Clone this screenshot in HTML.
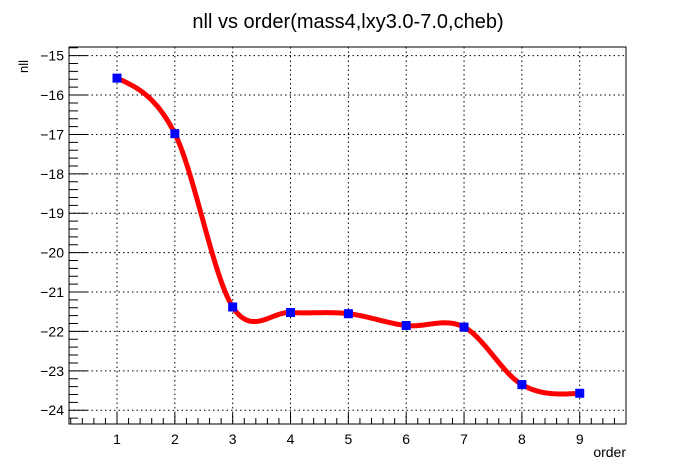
<!DOCTYPE html>
<html><head><meta charset="utf-8"><style>
body{margin:0;background:#fff;}
svg{display:block;font-family:"Liberation Sans",sans-serif;}
</style></head><body>
<svg id="c" width="696" height="472">
<text x="348" y="28" font-size="20" text-anchor="middle">nll vs order(mass4,lxy3.0-7.0,cheb)</text>
<text transform="translate(28,60) rotate(-90)" font-size="13" text-anchor="end">nll</text>
<text x="626" y="457" font-size="14" text-anchor="end">order</text>
<g id="grid"></g><g id="axes"></g><g id="series"></g>
</svg>
<script>
const categories=[1,2,3,4,5,6,7,8,9];
const nllValues=[-15.57,-16.98,-21.38,-21.52,-21.55,-21.85,-21.89,-23.35,-23.57];
const xTicks=[1,2,3,4,5,6,7,8,9];
const yTicks=[-15,-16,-17,-18,-19,-20,-21,-22,-23,-24];
const L=69,R=626,T=47,B=424,xMin=0.17,xMax=9.8,yMin=-24.35,yMax=-14.78;
const sx=v=>L+(v-xMin)/(xMax-xMin)*(R-L);
const sy=v=>B-(v-yMin)/(yMax-yMin)*(B-T);
const NS="http://www.w3.org/2000/svg";
function mk(p,t,a){const e=document.createElementNS(NS,t);for(const k in a)e.setAttribute(k,a[k]);p.appendChild(e);return e;}
const grid=document.getElementById('grid'),axes=document.getElementById('axes'),ser=document.getElementById('series');
xTicks.forEach(v=>{const g=mk(grid,'line',{x1:sx(v),x2:sx(v),y1:T,y2:B,stroke:'#000','stroke-dasharray':'1.5 3'});


const t=mk(axes,'text',{x:sx(v),y:B+20,'font-size':14,'text-anchor':'middle'});t.textContent=v;

});
yTicks.forEach(v=>{const g=mk(grid,'line',{x1:L,x2:R,y1:sy(v),y2:sy(v),stroke:'#000','stroke-dasharray':'1.5 3'});


const t=mk(axes,'text',{x:L-5,y:sy(v)+5,'font-size':14,'text-anchor':'end'});t.textContent='\u2212'+Math.abs(v);

});
let d='';
for(let i=0;i<=50;i++){const v=0.2*Math.floor((xMin/0.2))+i*0.2;if(v<xMin-1e-6||v>xMax+1e-6)continue;const maj=Math.abs(v-Math.round(v))<1e-6;const x=sx(v);d+=`M${x} ${B}V${B-(maj?11:6)}`;}
for(let i=0;i<=60;i++){const v=-25+i*0.2;if(v<yMin||v>yMax)continue;const maj=Math.abs(v-Math.round(v))<1e-6;const y=sy(v);d+=`M${L} ${y}H${L+(maj?18:9)}`;}
const tk=mk(axes,'path',{d:d,stroke:'#000','stroke-width':1,fill:'none'});


const fr=mk(axes,'rect',{x:L,y:T,width:R-L,height:B-T,fill:'none',stroke:'#000','stroke-width':1});


// Catmull-Rom cubic Hermite with natural end tangents
const n=categories.length,xs=categories,ys=nllValues,m=[];
for(let i=1;i<n-1;i++)m[i]=(ys[i+1]-ys[i-1])/(xs[i+1]-xs[i-1]);
m[0]=(3*(ys[1]-ys[0])/(xs[1]-xs[0])-m[1])/2;
m[n-1]=(3*(ys[n-1]-ys[n-2])/(xs[n-1]-xs[n-2])-m[n-2])/2;
let p='';
for(let j=0;j<n-1;j++){const h=xs[j+1]-xs[j];for(let k=0;k<=30;k++){const t=k/30;const h00=2*t*t*t-3*t*t+1,h10=t*t*t-2*t*t+t,h01=-2*t*t*t+3*t*t,h11=t*t*t-t*t;
const v=h00*ys[j]+h10*h*m[j]+h01*ys[j+1]+h11*h*m[j+1];p+=(p?'L':'M')+sx(xs[j]+t*h).toFixed(2)+' '+sy(v).toFixed(2);}}
const cv=mk(ser,'path',{d:p,stroke:'#f00','stroke-width':5,fill:'none','stroke-linejoin':'round'});


categories.forEach((o,i)=>{const r=mk(ser,'rect',{x:sx(o)-4.5,y:sy(nllValues[i])-4.5,width:9,height:9,fill:'#00f'});

});
</script>
</body></html>
